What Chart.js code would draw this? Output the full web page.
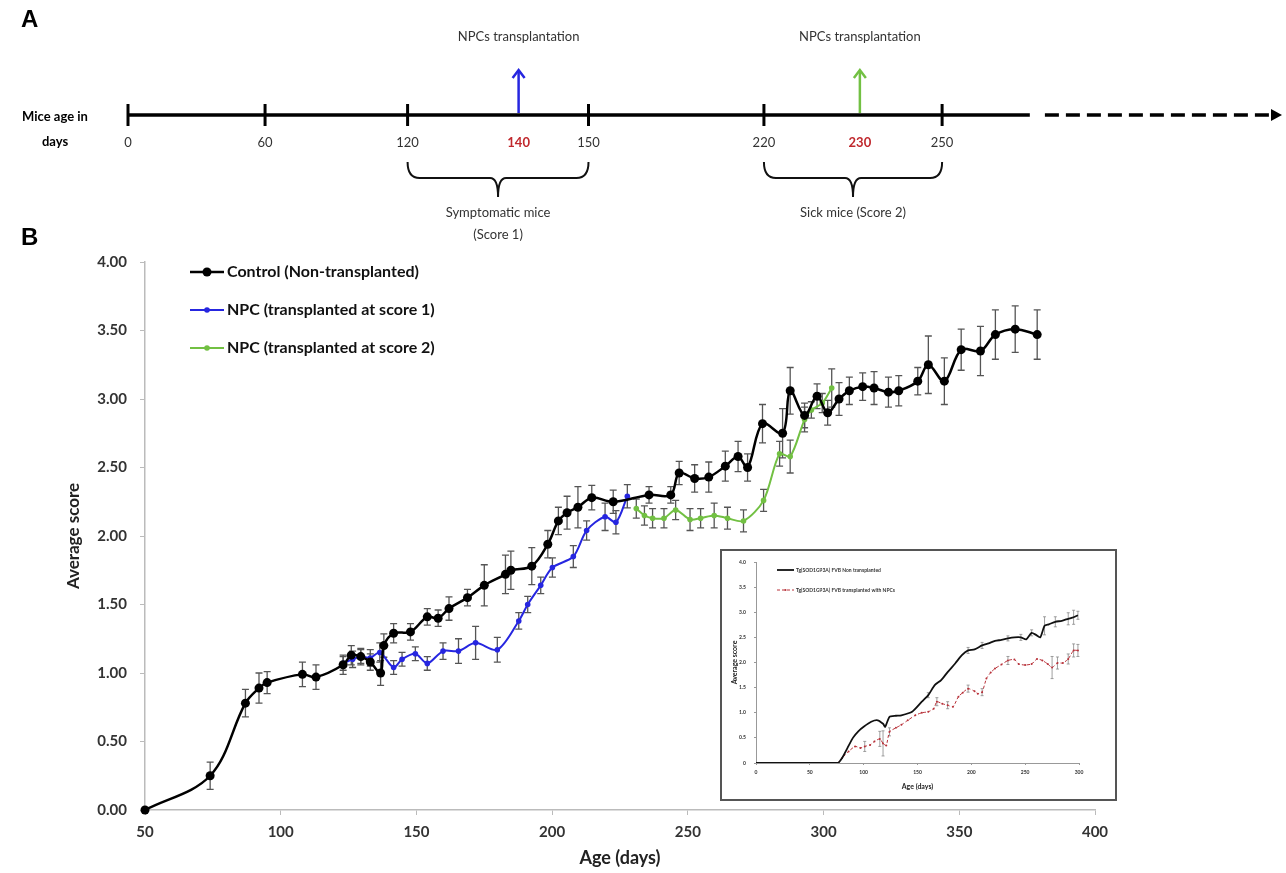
<!DOCTYPE html>
<html>
<head>
<meta charset="utf-8">
<script src="https://cdn.jsdelivr.net/npm/chart.js@4.4.0/dist/chart.umd.min.js"></script>
<style>
  html, body { margin: 0; padding: 0; background: #fff; }
  #wrap { position: relative; width: 1286px; height: 873px; overflow: hidden; }
  #timeline { position: absolute; left: 0; top: 0; }
  #main { position: absolute; left: 0; top: 230px; }
  #insetBox { position: absolute; left: 720px; top: 549px; width: 393px; height: 248px; border: 2px solid #555; background: #fff; }
</style>
</head>
<body>
<div id="wrap">
  <canvas id="timeline" width="1286" height="252"></canvas>
  <canvas id="main" width="1286" height="643"></canvas>
  <div id="insetBox"><canvas id="inset" width="393" height="248"></canvas></div>
</div>
<script>
// ---- panel A: schematic timeline (slots are positions on the schematic axis, not days)
const timelineLabels = ['0', '60', '120', '150', '220', '250']
const timelineSlots = [0, 1, 2.04, 3.36, 4.64, 5.94]
const transplantLabels = ['140', '230']
const transplantSlots = [2.85, 5.34]
const transplantColors = ['#2626e0', '#72c043']
const stageRanges = [[2.04, 3.36], [4.64, 5.94]]
const stageTexts = [['Symptomatic mice', '(Score 1)'], ['Sick mice (Score 2)']]
const axisSlots = [0, 6.58, 6.69, 8.42] // solid start, solid end, dashed start, arrow tip

// ---- panel B: average score vs age (days)
const controlDays = [50, 74, 87, 92, 95, 108, 113, 123, 126, 129.5, 133, 136.8, 138, 141.6, 147.8, 154, 158, 162, 168.8, 175,
  182.8, 184.8, 192.5, 198.4, 202.3, 205.5, 209.5, 214.6, 222.5, 235.7, 243.7, 246.8, 252.5, 257.7, 263.8, 268.5, 272,
  277.5, 284.9, 287.7, 293, 297.6, 301.5, 305.7, 309.5, 314.4, 318.6, 323.9, 327.7, 334.7, 338.6, 344.5, 350.7, 357.8,
  363.3, 370.6, 378.7]
const controlScore = [0, 0.25, 0.78, 0.89, 0.93, 0.99, 0.97, 1.06, 1.13, 1.12, 1.08, 1.00, 1.20, 1.29, 1.30, 1.41, 1.40, 1.47, 1.55, 1.64,
  1.72, 1.75, 1.78, 1.94, 2.11, 2.17, 2.21, 2.28, 2.25, 2.30, 2.30, 2.46, 2.42, 2.43, 2.51, 2.58, 2.50,
  2.82, 2.75, 3.06, 2.88, 3.02, 2.90, 3.00, 3.06, 3.09, 3.08, 3.05, 3.06, 3.13, 3.25, 3.13, 3.36, 3.35,
  3.47, 3.51, 3.47]
const controlErr = [0, 0.10, 0.10, 0.11, 0.08, 0.09, 0.09, 0.07, 0.07, 0.06, 0.06, 0.09, 0.085, 0.07, 0.06, 0.06, 0.06, 0.085, 0.06, 0.15,
  0.14, 0.14, 0.135, 0.10, 0.10, 0.12, 0.15, 0.09, 0.085, 0.06, 0.06, 0.085, 0.10, 0.11, 0.11, 0.11, 0.10,
  0.14, 0.18, 0.17, 0.09, 0.09, 0.09, 0.12, 0.10, 0.10, 0.12, 0.11, 0.11, 0.10, 0.21, 0.17, 0.15, 0.18,
  0.18, 0.17, 0.18]

const npc1Days = [123, 126.5, 129.5, 133, 136.5, 141.6, 144.7, 149.6, 154, 159.8, 165.5, 171.8, 179.8, 187.7, 191, 195.8,
  200.1, 207.8, 212.7, 219.5, 223.5, 227.7]
const npc1Score = [1.07, 1.10, 1.12, 1.11, 1.15, 1.04, 1.10, 1.14, 1.07, 1.16, 1.16, 1.22, 1.17, 1.38, 1.50, 1.64,
  1.77, 1.85, 2.04, 2.14, 2.10, 2.29]
const npc1Err = [0.05, 0.06, 0.05, 0.06, 0.07, 0.05, 0.05, 0.05, 0.05, 0.06, 0.09, 0.12, 0.09, 0.06, 0.06, 0.06,
  0.07, 0.08, 0.07, 0.10, 0.085, 0.085]

const npc2Days = [231, 234, 237, 241.2, 245.5, 250.8, 254.7, 259.7, 264.6, 270.5, 277.9, 283.8, 287.7, 293, 295.5, 299.5, 303]
const npc2Score = [2.20, 2.15, 2.13, 2.13, 2.19, 2.12, 2.13, 2.15, 2.13, 2.11, 2.26, 2.60, 2.58, 2.85, 2.92, 2.97, 3.08]
const npc2Err = [0.07, 0.07, 0.07, 0.07, 0.07, 0.08, 0.07, 0.09, 0.08, 0.08, 0.08, 0.09, 0.12, 0.09, 0.06, 0.07, 0.14]

// ---- inset
const insetCtrlDays = [0, 76, 80, 85, 90, 95, 100, 107, 113, 118, 120, 124, 130, 135, 145, 154, 160, 166, 172, 178, 185, 191,
  197, 203, 210, 216, 222, 228, 234, 240, 246, 251, 256, 260, 264, 268, 272, 278, 284, 290, 295, 299]
const insetCtrlScore = [0, 0, 0.1, 0.3, 0.5, 0.63, 0.72, 0.82, 0.85, 0.78, 0.72, 0.92, 0.94, 0.95, 1.02, 1.22, 1.35, 1.55, 1.65, 1.81, 1.98, 2.14,
  2.24, 2.26, 2.34, 2.38, 2.43, 2.45, 2.48, 2.5, 2.5, 2.46, 2.59, 2.55, 2.5, 2.73, 2.76, 2.81, 2.83, 2.87, 2.9, 2.94]
const insetCtrlErr = [0, 0, 0, 0, 0, 0, 0, 0, 0, 0, 0, 0, 0, 0, 0, 0, 0.05, 0, 0, 0, 0, 0,
  0.06, 0, 0.06, 0, 0, 0, 0.05, 0, 0.06, 0, 0.06, 0, 0, 0.18, 0, 0.1, 0, 0.12, 0.14, 0.08]
const insetNpcDays = [0, 75, 80, 86, 92, 97, 101, 106, 110, 115, 118, 121, 124, 130, 135, 141, 148, 154, 160, 165, 168, 173, 178,
  183, 188, 192, 197, 203, 206, 210, 214, 218, 222, 228, 234, 240, 244, 250, 256, 261, 266, 271, 275, 280, 285, 290, 295, 299]
const insetNpcScore = [0, 0, 0.1, 0.23, 0.33, 0.3, 0.33, 0.36, 0.43, 0.48, 0.39, 0.35, 0.62, 0.7, 0.76, 0.85, 0.95, 1.0, 1.02, 1.08, 1.22, 1.18, 1.15,
  1.12, 1.32, 1.4, 1.48, 1.43, 1.38, 1.41, 1.68, 1.8, 1.88, 1.96, 2.04, 2.06, 1.97, 1.95, 1.97, 2.07, 2.04, 1.97, 1.9, 1.99, 1.99, 2.07, 2.24, 2.24]
const insetNpcErr = [0, 0, 0, 0, 0, 0, 0.1, 0, 0, 0.15, 0.25, 0, 0.08, 0, 0, 0, 0, 0, 0, 0, 0.08, 0, 0.07,
  0, 0, 0, 0.07, 0, 0, 0.07, 0, 0, 0, 0, 0.08, 0, 0, 0, 0, 0, 0, 0, 0.22, 0.12, 0, 0.1, 0.13, 0.12]

function toPoints(xs, ys) {
  return xs.map((x, i) => ({ x: x, y: ys[i] }))
}

// error bars drawn from each dataset's "errors" array
const errorBars = {
  id: 'errorBars',
  beforeDatasetsDraw(chart, args, opts) {
    const ctx = chart.ctx
    const sx = chart.scales.x
    const sy = chart.scales.y
    chart.data.datasets.forEach((ds, i) => {
      if (!ds.errors) return
      ctx.save()
      ctx.strokeStyle = opts.color
      ctx.lineWidth = opts.width
      ds.data.forEach((p, j) => {
        const e = ds.errors[j]
        if (!e) return
        const px = sx.getPixelForValue(p.x)
        const top = sy.getPixelForValue(p.y + e)
        const bot = sy.getPixelForValue(p.y - e)
        ctx.beginPath()
        ctx.moveTo(px, top); ctx.lineTo(px, bot)
        ctx.moveTo(px - opts.cap, top); ctx.lineTo(px + opts.cap, top)
        ctx.moveTo(px - opts.cap, bot); ctx.lineTo(px + opts.cap, bot)
        ctx.stroke()
      })
      ctx.restore()
    })
  }
}

// legend inside the plot
const innerLegend = {
  id: 'innerLegend',
  afterDraw(chart, args, o) {
    const ctx = chart.ctx
    ctx.save()
    ctx.font = o.font
    ctx.textBaseline = 'middle'
    ctx.textAlign = 'left'
    chart.data.datasets.forEach((ds, i) => {
      const yy = o.y + i * o.gap
      ctx.strokeStyle = ds.borderColor
      ctx.lineWidth = ds.borderWidth
      ctx.setLineDash(ds.borderDash || [])
      ctx.beginPath(); ctx.moveTo(o.x, yy); ctx.lineTo(o.x + o.len, yy); ctx.stroke()
      ctx.setLineDash([])
      if (ds.pointRadius) {
        ctx.fillStyle = ds.backgroundColor
        ctx.beginPath(); ctx.arc(o.x + o.len / 2, yy, ds.pointRadius, 0, Math.PI * 2); ctx.fill()
      }
      ctx.fillStyle = o.color
      ctx.fillText(ds.label, o.x + o.len + o.pad, yy)
    })
    ctx.restore()
  }
}

// schematic timeline for panel A (also carries the "B" panel letter)
const timelinePlugin = {
  id: 'timelinePlugin',
  afterDraw(chart) {
    const ctx = chart.ctx
    const X = v => chart.scales.x.getPixelForValue(v)
    const lineY = 115
    ctx.save()
    ctx.fillStyle = '#000'
    ctx.font = 'bold 24px Arial'
    ctx.textBaseline = 'middle'
    ctx.textAlign = 'left'
    ctx.fillText('A', 21, 20)
    ctx.fillText('B', 21, 238)

    ctx.textAlign = 'center'
    ctx.font = 'bold 13px Lato'
    ctx.fillText('Mice age in', 55, 117)
    ctx.fillText('days', 55, 142)

    // axis
    ctx.strokeStyle = '#000'
    ctx.lineWidth = 3.5
    ctx.beginPath(); ctx.moveTo(X(axisSlots[0]), lineY); ctx.lineTo(X(axisSlots[1]), lineY); ctx.stroke()
    ctx.setLineDash([14, 7])
    ctx.beginPath(); ctx.moveTo(X(axisSlots[2]), lineY); ctx.lineTo(X(axisSlots[3]) - 8, lineY); ctx.stroke()
    ctx.setLineDash([])
    ctx.fillStyle = '#000'
    ctx.beginPath()
    ctx.moveTo(X(axisSlots[3]), lineY)
    ctx.lineTo(X(axisSlots[3]) - 11, lineY - 6)
    ctx.lineTo(X(axisSlots[3]) - 11, lineY + 6)
    ctx.closePath(); ctx.fill()

    // ticks and labels
    ctx.lineWidth = 3
    ctx.font = '13px Lato'
    timelineSlots.forEach((s, i) => {
      const px = X(s)
      ctx.beginPath(); ctx.moveTo(px, lineY - 11); ctx.lineTo(px, lineY + 11); ctx.stroke()
      ctx.fillStyle = '#333'
      ctx.fillText(timelineLabels[i], px, 143)
    })

    // transplantation arrows
    transplantSlots.forEach((s, i) => {
      const px = X(s)
      ctx.strokeStyle = transplantColors[i]
      ctx.lineWidth = 2.5
      ctx.beginPath(); ctx.moveTo(px, lineY - 2); ctx.lineTo(px, 72); ctx.stroke()
      ctx.beginPath(); ctx.moveTo(px - 6, 78); ctx.lineTo(px, 70); ctx.lineTo(px + 6, 78); ctx.stroke()
      ctx.fillStyle = '#333'
      ctx.font = '13px Lato'
      ctx.fillText('NPCs transplantation', px, 37)
      ctx.fillStyle = '#c0282d'
      ctx.font = 'bold 13px Lato'
      ctx.fillText(transplantLabels[i], px, 143)
    })

    // braces with stage names
    ctx.strokeStyle = '#111'
    ctx.lineWidth = 2
    stageRanges.forEach((r, i) => {
      const a = X(r[0]), b = X(r[1]), m = (a + b) / 2
      const t = 162, h = 178, s = 197
      ctx.beginPath()
      ctx.moveTo(a, t); ctx.quadraticCurveTo(a, h, a + 12, h); ctx.lineTo(m - 8, h); ctx.quadraticCurveTo(m, h, m, s)
      ctx.moveTo(b, t); ctx.quadraticCurveTo(b, h, b - 12, h); ctx.lineTo(m + 8, h); ctx.quadraticCurveTo(m, h, m, s)
      ctx.stroke()
      ctx.fillStyle = '#333'
      ctx.font = '13px Lato'
      stageTexts[i].forEach((txt, k) => ctx.fillText(txt, m, 213 + k * 22))
    })
    ctx.restore()
  }
}

new Chart(document.getElementById('timeline'), {
  type: 'line',
  data: { datasets: [] },
  options: {
    responsive: false,
    animation: false,
    layout: { padding: { left: 128, right: 4, top: 0, bottom: 0 } },
    scales: {
      x: { type: 'linear', min: 0, max: 8.42, display: false },
      y: { min: 0, max: 1, display: false }
    },
    plugins: { legend: { display: false }, tooltip: { enabled: false } }
  },
  plugins: [timelinePlugin]
})

const tickFont = { family: 'Lato', size: 15, weight: 'bold' }

new Chart(document.getElementById('main'), {
  type: 'line',
  data: {
    datasets: [
      {
        label: 'Control (Non-transplanted)',
        data: toPoints(controlDays, controlScore),
        errors: controlErr,
        borderColor: '#000', backgroundColor: '#000',
        borderWidth: 2.5, pointRadius: 4.5, pointBorderWidth: 0, tension: 0.35, clip: 8
      },
      {
        label: 'NPC (transplanted at score 1)',
        data: toPoints(npc1Days, npc1Score),
        errors: npc1Err,
        borderColor: '#2626e0', backgroundColor: '#2626e0',
        borderWidth: 2, pointRadius: 2.8, pointBorderWidth: 0, tension: 0.3
      },
      {
        label: 'NPC (transplanted at score 2)',
        data: toPoints(npc2Days, npc2Score),
        errors: npc2Err,
        borderColor: '#72c043', backgroundColor: '#72c043',
        borderWidth: 2, pointRadius: 2.8, pointBorderWidth: 0, tension: 0.3
      }
    ]
  },
  options: {
    responsive: false,
    animation: false,
    layout: { padding: { left: 0, top: 32, right: 191, bottom: 0 } },
    scales: {
      x: {
        type: 'linear', min: 50, max: 400,
        ticks: { stepSize: 50, color: '#333', font: tickFont, padding: 8 },
        grid: { drawOnChartArea: false, tickLength: 5, color: '#bbb' },
        border: { color: '#bbb', width: 1.5 },
        title: { display: true, text: 'Age (days)', color: '#222', font: { family: 'Lato', size: 18, weight: 'bold' }, padding: { top: 4, bottom: 4 } },
        afterFit: s => { s.height = 63 }
      },
      y: {
        min: 0, max: 4,
        ticks: { stepSize: 0.5, color: '#333', font: tickFont, padding: 13, callback: v => v.toFixed(2) },
        grid: { drawOnChartArea: false, tickLength: 5, color: '#bbb' },
        border: { color: '#bbb', width: 1.5 },
        title: { display: true, text: 'Average score', color: '#222', font: { family: 'Lato', size: 17, weight: 'bold' }, padding: { top: 63, bottom: 4 } },
        afterFit: s => { s.width = 145 }
      }
    },
    plugins: {
      legend: { display: false },
      tooltip: { enabled: false },
      errorBars: { color: '#555', width: 1.3, cap: 3.5 },
      innerLegend: { x: 190, y: 42, gap: 38, len: 34, pad: 3, font: 'bold 16px Lato', color: '#111' }
    }
  },
  plugins: [errorBars, innerLegend]
})

const insetTick = { family: 'Lato', size: 5, weight: 'bold' }

new Chart(document.getElementById('inset'), {
  type: 'line',
  data: {
    datasets: [
      {
        label: 'Tg(SOD1G93A) FVB Non transplanted',
        data: toPoints(insetCtrlDays, insetCtrlScore),
        errors: insetCtrlErr,
        borderColor: '#111', backgroundColor: '#111',
        borderWidth: 1.8, pointRadius: 0, tension: 0.2
      },
      {
        label: 'Tg(SOD1G93A) FVB transplanted with NPCs',
        data: toPoints(insetNpcDays, insetNpcScore),
        errors: insetNpcErr,
        borderColor: '#b8323a', backgroundColor: '#b8323a',
        borderWidth: 1, borderDash: [3, 2], pointRadius: 1, pointBorderWidth: 0, tension: 0.2
      }
    ]
  },
  options: {
    responsive: false,
    animation: false,
    layout: { padding: { left: 0, top: 9, right: 36, bottom: 0 } },
    scales: {
      x: {
        type: 'linear', min: 0, max: 300,
        ticks: { stepSize: 50, color: '#333', font: insetTick, padding: 4 },
        grid: { drawOnChartArea: false, tickLength: 2, color: '#999' },
        border: { color: '#999' },
        title: { display: true, text: 'Age (days)', color: '#222', font: { family: 'Lato', size: 7, weight: 'bold' }, padding: { top: 2, bottom: 8 } },
        afterFit: s => { s.height = 36 }
      },
      y: {
        min: 0, max: 4,
        ticks: { stepSize: 0.5, color: '#333', font: insetTick, padding: 8 },
        grid: { drawOnChartArea: false, tickLength: 2, color: '#999' },
        border: { color: '#999' },
        title: { display: true, text: 'Average score', color: '#222', font: { family: 'Lato', size: 7, weight: 'bold' }, padding: { top: 9, bottom: 2 } },
        afterFit: s => { s.width = 34 }
      }
    },
    plugins: {
      legend: { display: false },
      tooltip: { enabled: false },
      errorBars: { color: '#888', width: 0.8, cap: 1.5 },
      innerLegend: { x: 55, y: 19, gap: 20, len: 17, pad: 2, font: 'bold 5px Lato', color: '#333' }
    }
  },
  plugins: [errorBars, innerLegend]
})
</script>
</body>
</html>
